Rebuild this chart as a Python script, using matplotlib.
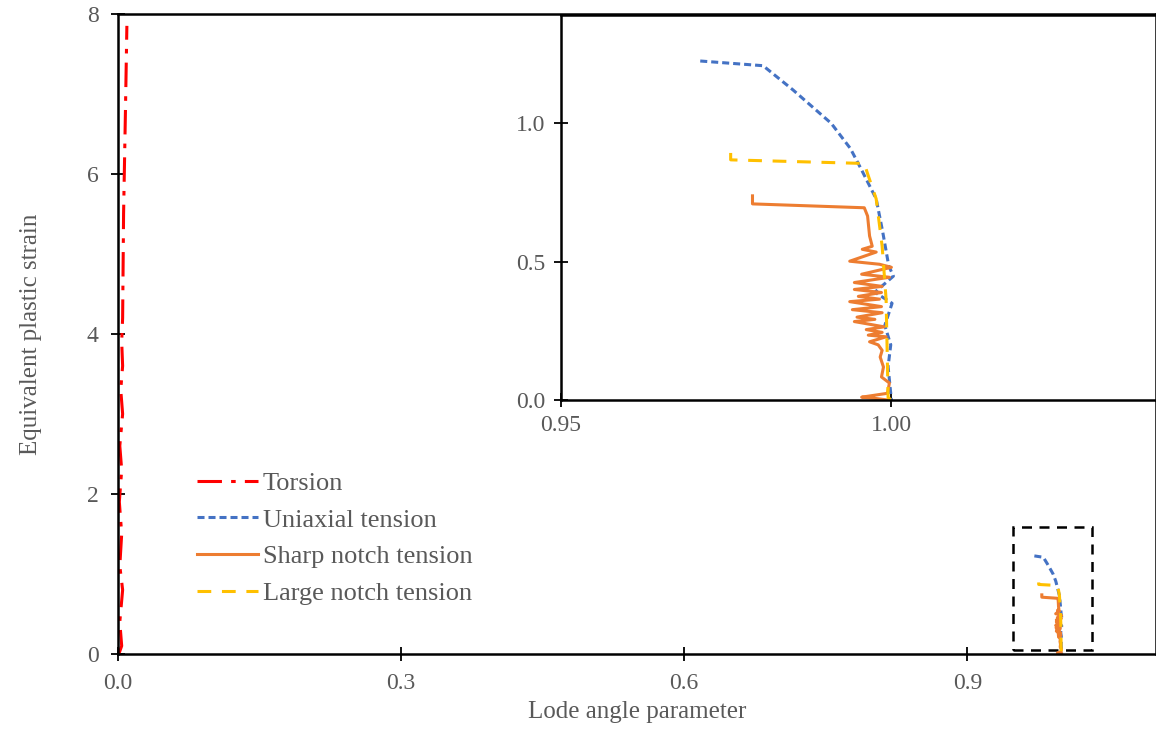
import matplotlib
matplotlib.use("Agg")
import matplotlib.pyplot as plt
from matplotlib.patches import Rectangle

plt.rcParams['font.family'] = ['Liberation Serif', 'DejaVu Serif']

# Torsion path (Lode angle parameter ~ 0)
torsion_x = [0.001, 0.004, 0.002, 0.005, 0.002, 0.004, 0.0015, 0.004, 0.002, 0.005,
             0.003, 0.005, 0.004, 0.005, 0.006, 0.008, 0.0095]
torsion_y = [0.0, 0.1, 0.4, 0.8, 1.1, 1.5, 1.9, 2.3, 2.6, 3.0,
             3.3, 3.6, 3.9, 4.2, 5.5, 6.8, 7.85]

# Uniaxial tension
uni_x = [0.9711, 0.9806, 0.9851, 0.9909, 0.9938, 0.9954, 0.9977, 0.9987,
         0.9996, 1.0003, 0.9975, 1.0001, 0.9990, 0.9999, 0.9995, 1.0]
uni_y = [1.225, 1.208, 1.121, 1.0, 0.909, 0.836, 0.727, 0.606,
         0.485, 0.448, 0.39, 0.35, 0.27, 0.2, 0.121, 0.0]

# Large notch tension
large_x = [0.9757, 0.9757, 0.9959, 0.9964, 0.9977, 0.9986, 0.9992, 0.9995, 1.0]
large_y = [0.893, 0.868, 0.855, 0.818, 0.727, 0.556, 0.364, 0.01, 0.0]

# Sharp notch tension
sharp_x = [0.9790, 0.9790, 0.9959, 0.9964, 0.9967, 0.9971, 0.9956, 0.9977, 0.9937,
           0.9982, 1.0000, 0.9955, 0.9997, 0.9944, 0.9986, 0.9944, 0.9985, 0.9950,
           0.9982, 0.9937, 0.9985, 0.9941, 0.9986, 0.9948, 0.9975, 0.9944, 0.9989,
           0.9962, 0.9986, 0.9965, 0.9992, 0.9967, 0.9980, 0.9986, 0.9983, 0.9988,
           0.9985, 0.9997, 0.9994, 0.9955, 0.9974, 0.9997]
sharp_y = [0.738, 0.709, 0.695, 0.665, 0.593, 0.556, 0.545, 0.535, 0.502,
           0.491, 0.480, 0.455, 0.444, 0.425, 0.411, 0.400, 0.389, 0.375,
           0.365, 0.356, 0.338, 0.327, 0.316, 0.300, 0.292, 0.284, 0.265,
           0.255, 0.245, 0.235, 0.229, 0.211, 0.200, 0.180, 0.156, 0.120,
           0.084, 0.062, 0.025, 0.011, 0.007, 0.0]

# Zoomed window outline on the main axes
zoom_box = (0.948, 0.05, 1.032, 1.59)

red = '#ff0000'
blue = '#4472c4'
orange = '#ed7d31'
gold = '#ffc000'
grey = '#595959'

fig = plt.figure(figsize=(11.56, 7.29), dpi=100)
ax = fig.add_axes([0.102, 0.103, 0.898, 0.878])

def draw_series(a):
    a.plot(torsion_x, torsion_y, color=red, lw=2.2, dashes=(8, 3, 1.5, 3), label='Torsion')
    a.plot(uni_x, uni_y, color=blue, lw=2.2, dashes=(2.3, 1.3), label='Uniaxial tension')
    a.plot(sharp_x, sharp_y, color=orange, lw=2.2, label='Sharp notch tension')
    a.plot(large_x, large_y, color=gold, lw=2.2, dashes=(4.5, 3.5), label='Large notch tension')

draw_series(ax)
ax.add_patch(Rectangle((zoom_box[0], zoom_box[1]), zoom_box[2] - zoom_box[0],
                       zoom_box[3] - zoom_box[1], fill=False, ec='black', lw=1.8,
                       ls=(0, (4, 3))))

ax.set_xlim(0, 1.1)
ax.set_ylim(0, 8)
ax.set_xticks([0.0, 0.3, 0.6, 0.9])
ax.set_xticklabels(['0.0', '0.3', '0.6', '0.9'])
ax.set_yticks([0, 2, 4, 6, 8])
for s in ax.spines.values():
    s.set_linewidth(1.8)
ax.tick_params(direction='inout', length=10, width=1.3, labelsize=17,
               labelcolor=grey)
ax.tick_params(axis='x', pad=9)
ax.tick_params(axis='y', pad=9)
ax.set_xlabel('Lode angle parameter', fontsize=18, color=grey, labelpad=5)
ax.set_ylabel('Equivalent plastic strain', fontsize=18, color=grey, labelpad=32)

ax.legend(loc='upper left', bbox_to_anchor=(0.076, 0.285), frameon=False,
          borderpad=0, borderaxespad=0, fontsize=19, handlelength=2.3,
          labelspacing=0.5, handletextpad=0.2, labelcolor=grey)

# Magnified view
ins = fig.add_axes([0.485, 0.451, 0.515, 0.528])
draw_series(ins)
ins.set_xlim(0.95, 1.04)
ins.set_ylim(0, 1.39)
ins.set_xticks([0.95, 1.00])
ins.set_xticklabels(['0.95', '1.00'])
ins.set_yticks([0.0, 0.5, 1.0])
for s in ins.spines.values():
    s.set_linewidth(1.8)
ins.tick_params(direction='inout', length=10, width=1.3, labelsize=17,
                labelcolor=grey, pad=6)

fig.savefig('out.png', dpi=100)
